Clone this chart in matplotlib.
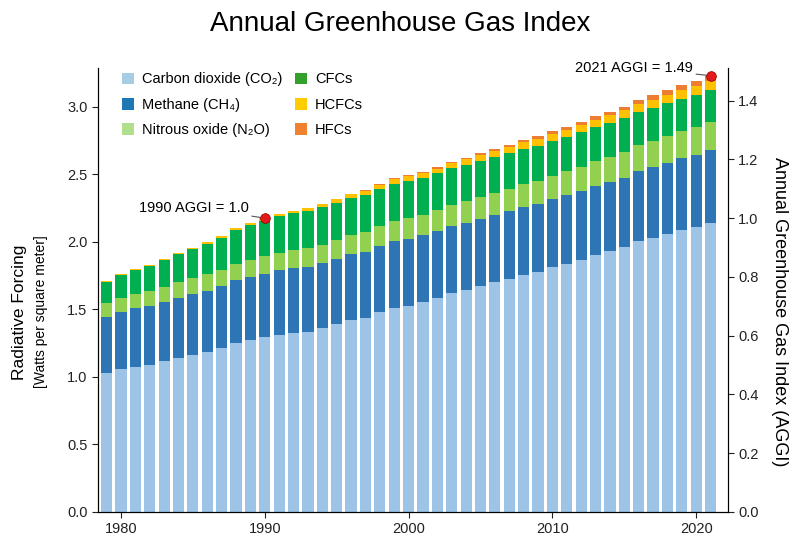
import numpy as np
import matplotlib
matplotlib.use("Agg")
import matplotlib.pyplot as plt
from matplotlib.patches import Patch

plt.rcParams['font.family'] = ['Liberation Sans', 'DejaVu Sans']

years = list(range(1979, 2022))

co2 = [1.027, 1.058, 1.077, 1.089, 1.115, 1.140, 1.162, 1.184, 1.211, 1.250,
       1.274, 1.293, 1.313, 1.324, 1.336, 1.361, 1.391, 1.422, 1.440, 1.480,
       1.512, 1.529, 1.553, 1.584, 1.620, 1.647, 1.677, 1.706, 1.728, 1.758,
       1.779, 1.812, 1.839, 1.870, 1.904, 1.931, 1.961, 2.004, 2.033, 2.062,
       2.092, 2.114, 2.140]
ch4 = [0.419, 0.426, 0.433, 0.437, 0.442, 0.447, 0.451, 0.455, 0.460, 0.465,
       0.469, 0.472, 0.476, 0.481, 0.482, 0.485, 0.486, 0.487, 0.489, 0.493,
       0.496, 0.496, 0.495, 0.495, 0.497, 0.496, 0.495, 0.495, 0.498, 0.501,
       0.503, 0.505, 0.506, 0.507, 0.509, 0.513, 0.516, 0.518, 0.520, 0.523,
       0.527, 0.533, 0.542]
n2o = [0.104, 0.104, 0.107, 0.111, 0.113, 0.116, 0.118, 0.122, 0.120, 0.123,
       0.126, 0.129, 0.131, 0.133, 0.134, 0.134, 0.136, 0.139, 0.142, 0.145,
       0.148, 0.151, 0.153, 0.156, 0.158, 0.160, 0.162, 0.165, 0.167, 0.170,
       0.172, 0.175, 0.178, 0.181, 0.184, 0.187, 0.190, 0.193, 0.195, 0.199,
       0.201, 0.205, 0.208]
cfcs = [0.155, 0.166, 0.175, 0.185, 0.195, 0.205, 0.215, 0.226, 0.238, 0.249,
        0.257, 0.264, 0.270, 0.274, 0.276, 0.277, 0.278, 0.278, 0.278, 0.277,
        0.277, 0.276, 0.275, 0.273, 0.272, 0.270, 0.268, 0.266, 0.264, 0.262,
        0.260, 0.258, 0.256, 0.254, 0.252, 0.250, 0.248, 0.246, 0.245, 0.243,
        0.241, 0.239, 0.237]
hcfcs = [0.007, 0.008, 0.009, 0.009, 0.010, 0.011, 0.012, 0.013, 0.014, 0.015,
         0.016, 0.017, 0.018, 0.019, 0.020, 0.022, 0.024, 0.026, 0.028, 0.030,
         0.031, 0.033, 0.035, 0.036, 0.038, 0.040, 0.042, 0.044, 0.046, 0.048,
         0.050, 0.052, 0.054, 0.056, 0.057, 0.058, 0.059, 0.060, 0.061, 0.062,
         0.062, 0.063, 0.063]
hfcs = [0.001, 0.001, 0.001, 0.001, 0.001, 0.001, 0.001, 0.001, 0.001, 0.002,
        0.002, 0.002, 0.002, 0.002, 0.003, 0.003, 0.004, 0.005, 0.006, 0.007,
        0.007, 0.008, 0.009, 0.010, 0.011, 0.012, 0.014, 0.015, 0.016, 0.018,
        0.019, 0.021, 0.022, 0.024, 0.025, 0.027, 0.029, 0.031, 0.033, 0.035,
        0.037, 0.040, 0.042]

gases = [co2, ch4, n2o, cfcs, hcfcs, hfcs]
labels = ['Carbon dioxide (CO\u2082)', 'Methane (CH\u2084)', 'Nitrous oxide (N\u2082O)',
          'CFCs', 'HCFCs', 'HFCs']
bar_colors = ['#9dc3e6', '#2e75b6', '#92d050', '#00b050', '#ffc000', '#ed7d31']
legend_colors = ['#a6cee3', '#1f78b4', '#b2df8a', '#33a02c', '#ffcc00', '#f0812f']

fig = plt.figure(figsize=(7.92, 5.35), dpi=100)
ax = fig.add_axes([0.1237, 0.043, 0.7953, 0.830])

bottom = np.zeros(len(years))
for vals, c in zip(gases, bar_colors):
    ax.bar(years, vals, bottom=bottom, width=0.78, color=c, edgecolor='none')
    bottom += np.array(vals)
total = bottom

ref = total[years.index(1990)]
ymax = 3.289
ax.set_xlim(1978.4, 2022.2)
ax.set_ylim(0, ymax)
ax.set_yticks(np.arange(0, 3.01, 0.5))
ax.set_yticklabels([f"{v:.1f}" for v in np.arange(0, 3.01, 0.5)])
ax.set_xticks([1980, 1990, 2000, 2010, 2020])
ax.spines['top'].set_visible(False)
ax.tick_params(labelsize=10.5, length=4, width=0.8, colors='#222222')

ax2 = ax.twinx()
ax2.set_ylim(0, ymax / ref)
ax2.set_yticks(np.arange(0, 1.41, 0.2))
ax2.set_yticklabels([f"{v:.1f}" for v in np.arange(0, 1.41, 0.2)])
ax2.spines['top'].set_visible(False)
ax2.tick_params(labelsize=10.5, length=4, width=0.8, colors='#222222')

# AGGI markers, drawn on the top axes so the leader lines stay visible
for yr, txt, tx, ty in [(1990, '1990 AGGI = 1.0', 1988.9, 2.255),
                        (2021, '2021 AGGI = 1.49', 2019.8, 3.29)]:
    t = total[years.index(yr)] / ref
    ax2.annotate(txt, xy=(yr, t), xytext=(tx, ty / ref), fontsize=10.5,
                 ha='right', va='center', annotation_clip=False, zorder=6,
                 arrowprops=dict(arrowstyle='-', color='#555555', lw=0.8,
                                 shrinkA=0, shrinkB=0))
    ax2.plot(yr, t, 'o', color='#e3191c', markeredgecolor='#8b0000',
             markeredgewidth=0.5, markersize=7, zorder=7, clip_on=False)

handles = [Patch(facecolor=c) for c in legend_colors]
ax.legend(handles, labels, ncol=2, loc='upper left', bbox_to_anchor=(0.038, 0.99),
          frameon=False, fontsize=10.5, handlelength=0.85, handleheight=0.85,
          columnspacing=0.9, labelspacing=0.78, handletextpad=0.5,
          borderpad=0, borderaxespad=0)

fig.text(0.505, 0.955, 'Annual Greenhouse Gas Index', fontsize=20, ha='center', va='center')
fig.text(0.024, 0.417, 'Radiative Forcing', fontsize=12.5, rotation=90, ha='center', va='center')
fig.text(0.052, 0.417, '[Watts per square meter]', fontsize=10, rotation=90, ha='center', va='center')
fig.text(0.984, 0.417, 'Annual Greenhouse Gas Index (AGGI)', fontsize=13, rotation=270,
         ha='center', va='center')

fig.savefig('out.png', dpi=100)
